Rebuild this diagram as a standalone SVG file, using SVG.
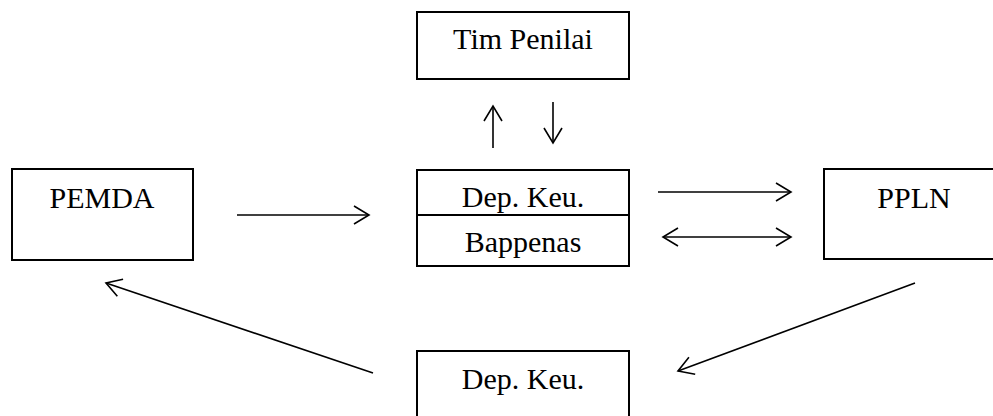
<svg xmlns="http://www.w3.org/2000/svg" width="993" height="416" viewBox="0 0 993 416">
<style>
.box{fill:#fff;stroke:#000;stroke-width:2}
.lbl{font-family:"Liberation Serif","Times New Roman",serif;font-size:30px;fill:#000;text-anchor:middle}
.con{stroke:#000;stroke-width:1.6;fill:none}
</style>
<defs>
<marker id="ah" markerUnits="userSpaceOnUse" markerWidth="20" markerHeight="20" viewBox="-17 -10 19 20" refX="0" refY="0" orient="auto-start-reverse">
<path d="M-15,-9 L0,0 L-15,9" fill="none" stroke="#000" stroke-width="1.6"/>
</marker>
</defs>
<rect width="993" height="416" fill="#fff"/>
<g id="tim-penilai">
<rect class="box" x="417" y="12" width="212" height="67"/>
<text class="lbl" x="523" y="49">Tim Penilai</text>
</g>
<g id="depkeu-bappenas">
<rect class="box" x="417" y="170" width="212" height="96"/>
<line class="box" x1="417" y1="215" x2="629" y2="215"/>
<text class="lbl" x="523" y="207">Dep. Keu.</text>
<text class="lbl" x="523" y="252">Bappenas</text>
</g>
<g id="pemda">
<rect class="box" x="12" y="169" width="181" height="91"/>
<text class="lbl" x="102" y="208">PEMDA</text>
</g>
<g id="ppln">
<rect class="box" x="824" y="169" width="181" height="90"/>
<text class="lbl" x="914" y="208">PPLN</text>
</g>
<g id="depkeu-bottom">
<rect class="box" x="417" y="351" width="212" height="80"/>
<text class="lbl" x="523" y="389">Dep. Keu.</text>
</g>
<g id="connectors">
<line class="con" x1="493" y1="148" x2="493" y2="106" marker-end="url(#ah)"/>
<line class="con" x1="553" y1="102" x2="553" y2="143" marker-end="url(#ah)"/>
<line class="con" x1="237" y1="215" x2="369" y2="215" marker-end="url(#ah)"/>
<line class="con" x1="658" y1="192" x2="791" y2="192" marker-end="url(#ah)"/>
<line class="con" x1="663" y1="237" x2="791" y2="237" marker-start="url(#ah)" marker-end="url(#ah)"/>
<line class="con" x1="915" y1="283" x2="678" y2="371" marker-end="url(#ah)"/>
<line class="con" x1="373" y1="373" x2="106" y2="283" marker-end="url(#ah)"/>
</g>
</svg>
